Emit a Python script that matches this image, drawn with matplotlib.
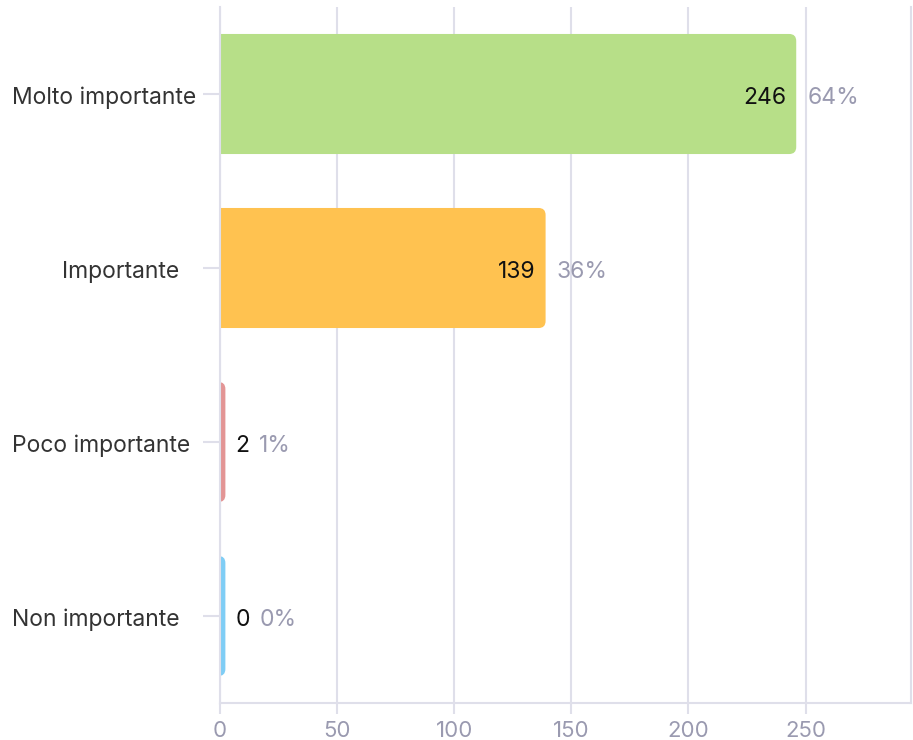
import matplotlib.pyplot as plt
from matplotlib.patches import FancyBboxPatch
from matplotlib.transforms import offset_copy

plt.rcParams['font.family'] = ['Inter', 'DejaVu Sans']

categories = ["Molto importante", "Importante", "Poco importante", "Non importante"]
counts = [246, 139, 2, 0]
percents = ["64%", "36%", "1%", "0%"]
colors = ["#b7df88", "#ffc250", "#e39595", "#7fcdf5"]
label_left = [12, 62, 12, 12]  # pixel x of each category label

W, H = 913, 740
fig = plt.figure(figsize=(W / 100, H / 100), dpi=100)
x0, x1, y_top, y_bot = 220, 911, 7, 703
ax = fig.add_axes([x0 / W, 1 - y_bot / H, (x1 - x0) / W, (y_bot - y_top) / H])

grid_c = "#dfdfea"
xmax = 295
ax.set_xlim(0, xmax)
ax.set_ylim(3.5, -0.5)
ax.set_xticks([0, 50, 100, 150, 200, 250])
ax.set_yticks(range(len(categories)))
ax.set_yticklabels([])
ax.grid(axis="x", color=grid_c, lw=1.5)
ax.set_axisbelow(True)
ax.spines["top"].set_visible(False)
for s in ["left", "bottom", "right"]:
    ax.spines[s].set_color(grid_c)
    ax.spines[s].set_linewidth(1.5)
ax.tick_params(axis="x", colors="#9a9ab0", labelsize=16, length=8, width=1.5, color=grid_c, pad=5)
ax.tick_params(axis="y", length=12, width=1.5, color=grid_c)

# bars with rounded right end, radius given in pixels
bar_h = 0.69
min_w = 2.3
px_per_x = (x1 - x0) / xmax
px_per_y = (y_bot - y_top) / 4
rad_px = 7
for i, (n, c) in enumerate(zip(counts, colors)):
    w = max(n, min_w)
    box = FancyBboxPatch((-10, i - bar_h / 2), w + 10, bar_h,
                         boxstyle="round,pad=0,rounding_size=%f" % (rad_px / px_per_x),
                         mutation_aspect=px_per_x / px_per_y, fc=c, ec="none",
                         zorder=2, clip_on=True)
    ax.add_patch(box)

fs = 16.5
base = -10  # baseline sits ~10px below the bar centre

def shifted(dx):
    return offset_copy(ax.transData, fig=fig, x=dx, y=base, units="dots")

for i, (n, pct) in enumerate(zip(counts, percents)):
    w = max(n, min_w)
    if n > 20:
        ax.text(w, i, str(n), ha="right", va="baseline", fontsize=fs, color="#111111",
                transform=shifted(-10))
        off = 11
    else:
        ax.text(w, i, str(n), ha="left", va="baseline", fontsize=fs, color="#111111",
                transform=shifted(10))
        off = 34
    ax.text(w, i, pct, ha="left", va="baseline", fontsize=fs, color="#9a9ab0",
            transform=shifted(off))

for i, (lab, lx) in enumerate(zip(categories, label_left)):
    y = (ax.transData.transform((0, i))[1] + base) / H
    fig.text(lx / W, y, lab, ha="left", va="baseline", fontsize=fs, color="#333333")

fig.savefig("out.png", dpi=100)
